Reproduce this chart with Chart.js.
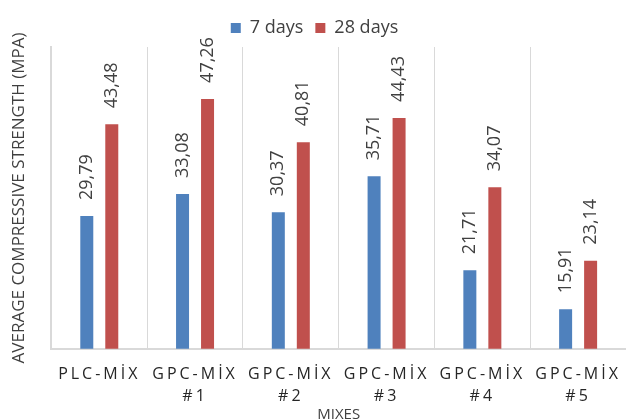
<!DOCTYPE html>
<html lang="tr">
<head>
  <meta charset="UTF-8">
  <title>Average Compressive Strength</title>
  <script src="https://cdn.jsdelivr.net/npm/chart.js"></script>
  <style>
    html, body { margin: 0; padding: 0; background: #fff; }
    .wrap { width: 626px; height: 419px; }
  </style>
</head>
<body>
  <div class="wrap"><canvas id="grafik" width="626" height="419"></canvas></div>

  <script>
    const karisimlar = ['PLC-MİX', ['GPC-MİX', '#1'], ['GPC-MİX', '#2'], ['GPC-MİX', '#3'], ['GPC-MİX', '#4'], ['GPC-MİX', '#5']];
    const gun7 = [29.79, 33.08, 30.37, 35.71, 21.71, 15.91];
    const gun28 = [43.48, 47.26, 40.81, 44.43, 34.07, 23.14];
    const seriAdlari = ['7 days', '28 days'];

    const yaziTipi = "'Open Sans', 'Noto Sans', sans-serif";

    // kategori ekseni, etiketler harf aralikli
    class AralikliKategori extends Chart.CategoryScale {
      drawLabels(area) {
        const ctx = this.ctx;
        ctx.save();
        ctx.letterSpacing = '3px';
        super.drawLabels(area);
        ctx.restore();
      }
    }
    AralikliKategori.id = 'aralikliKategori';
    AralikliKategori.defaults = Chart.CategoryScale.defaults;
    Chart.register(AralikliKategori);

    // cubuk ustu dikey degerler
    const degerEtiketi = {
      id: 'degerEtiketi',
      afterDatasetsDraw(chart) {
        const ctx = chart.ctx;
        ctx.save();
        ctx.font = '18px ' + yaziTipi;
        ctx.fillStyle = '#404040';
        ctx.textAlign = 'left';
        ctx.textBaseline = 'middle';
        chart.data.datasets.forEach((ds, i) => {
          chart.getDatasetMeta(i).data.forEach((bar, j) => {
            ctx.save();
            ctx.translate(bar.x, bar.y - 16);
            ctx.rotate(-Math.PI / 2);
            ctx.fillText(ds.data[j].toFixed(2).replace('.', ','), 0, 0);
            ctx.restore();
          });
        });
        ctx.restore();
      }
    };

    new Chart(document.getElementById('grafik'), {
      type: 'bar',
      data: {
        labels: karisimlar,
        datasets: [
          { label: seriAdlari[0], data: gun7, backgroundColor: '#4F81BD' },
          { label: seriAdlari[1], data: gun28, backgroundColor: '#C0504D' }
        ]
      },
      options: {
        responsive: false,
        animation: false,
        categoryPercentage: 0.522,
        barPercentage: 0.52,
        layout: { padding: { top: 7, right: -3, bottom: -15, left: 0 } },
        plugins: {
          tooltip: { enabled: false },
          legend: {
            position: 'top',
            labels: {
              boxWidth: 10,
              boxHeight: 10,
              padding: 12,
              color: '#404040',
              font: { family: yaziTipi, size: 18 }
            }
          }
        },
        scales: {
          x: {
            type: 'aralikliKategori',
            grid: { display: true, offset: true, color: '#d9d9d9', drawTicks: false },
            border: { display: true, color: '#d9d9d9', width: 2 },
            ticks: {
              color: '#262626',
              padding: 15,
              maxRotation: 0,
              font: { family: yaziTipi, size: 16, lineHeight: 1.35 }
            },
            title: {
              display: true,
              text: 'MIXES',
              color: '#404040',
              padding: { top: -16, bottom: 10 },
              font: { family: yaziTipi, size: 15 }
            }
          },
          y: {
            min: 10,
            max: 55,
            grid: { display: false },
            border: { display: true, color: '#d9d9d9', width: 2 },
            ticks: { display: false },
            title: {
              display: true,
              text: 'AVERAGE COMPRESSIVE STRENGTH (MPA)',
              color: '#404040',
              padding: { top: 9, bottom: 14 },
              font: { family: yaziTipi, size: 17 }
            }
          }
        }
      },
      plugins: [degerEtiketi]
    });
  </script>
</body>
</html>
